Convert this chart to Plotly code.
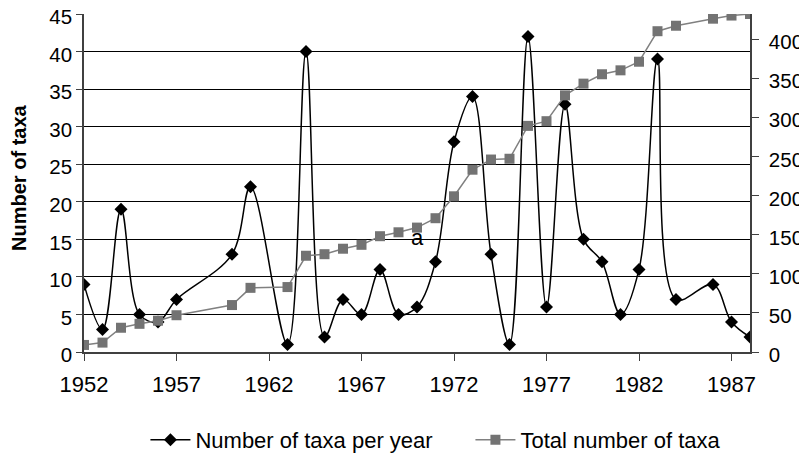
import plotly.graph_objects as go

years = [1952, 1953, 1954, 1955, 1956, 1957, 1960, 1961, 1963, 1964, 1965, 1966,
         1967, 1968, 1969, 1970, 1971, 1972, 1973, 1974, 1975, 1976, 1977, 1978,
         1979, 1980, 1981, 1982, 1983, 1984, 1986, 1987, 1988]
taxa_per_year = [9, 3, 19, 5, 4, 7, 13, 22, 1, 40, 2, 7,
                 5, 11, 5, 6, 12, 28, 34, 13, 1, 42, 6, 33,
                 15, 12, 5, 11, 39, 7, 9, 4, 2]
total_taxa = [9, 12, 31, 36, 40, 47, 60, 82, 83, 123, 125, 132,
              137, 148, 153, 159, 171, 199, 233, 246, 247, 289, 295, 328,
              343, 355, 360, 371, 410, 417, 426, 430, 432]
x_ticks = [1952, 1957, 1962, 1967, 1972, 1977, 1982, 1987]
left_ticks = list(range(0, 50, 5))
right_ticks = list(range(0, 450, 50))

FONT = "Arial, 'Liberation Sans', sans-serif"

# the page body adds an 8px margin, so the figure is sized/offset to compensate
W, H = 799, 448

fig = go.Figure()
fig.add_trace(go.Scatter(
    x=years, y=taxa_per_year, name="Number of taxa per year",
    mode="lines+markers",
    line=dict(color="black", width=1.5, shape="spline", smoothing=1),
    marker=dict(symbol="diamond", size=10, color="black"),
    yaxis="y",
))
fig.add_trace(go.Scatter(
    x=years, y=total_taxa, name="Total number of taxa",
    mode="lines+markers",
    line=dict(color="#808080", width=1.5),
    marker=dict(symbol="square", size=10, color="#737373"),
    yaxis="y2",
))

fig.add_annotation(x=1970, y=15.2, xref="x", yref="y", text="a",
                   showarrow=False, font=dict(size=22, color="black", family=FONT))
fig.add_annotation(x=-0.0976, y=0.515, xref="paper", yref="paper",
                   text="<b>Number of taxa</b>", textangle=-90, showarrow=False,
                   xanchor="center", yanchor="middle",
                   font=dict(size=20, color="black", family=FONT))

fig.update_layout(
    width=W, height=H,
    margin=dict(l=76, r=57, t=6, b=104, autoexpand=False),
    paper_bgcolor="white", plot_bgcolor="white",
    font=dict(family=FONT, size=22, color="black"),
    showlegend=True,
    legend=dict(orientation="h", xref="container", yref="container",
                x=0.172, xanchor="left", y=1 - 432 / H, yanchor="middle",
                font=dict(size=22), bgcolor="rgba(0,0,0,0)", itemwidth=40,
                entrywidth=270),
    xaxis=dict(range=[1952, 1988], tickvals=x_ticks, ticks="outside", ticklen=7,
               tickcolor="#404040", showline=True, linecolor="#404040", linewidth=1.5,
               showgrid=False, zeroline=False, tickfont=dict(size=22), automargin=False,
               ticklabelstandoff=5, ticklabeloverflow="allow"),
    yaxis=dict(range=[0, 45], tickvals=left_ticks, ticks="outside", ticklen=6,
               tickcolor="#404040", showline=True, linecolor="#404040", linewidth=1.5,
               showgrid=True, gridcolor="black", gridwidth=1, zeroline=False,
               tickfont=dict(size=20.5), automargin=False, ticklabeloverflow="allow",
               ticklabelshift=3),
    yaxis2=dict(range=[0, 432], tickvals=right_ticks, overlaying="y", side="right",
                ticks="outside", ticklen=7, tickcolor="#404040", showline=True,
                linecolor="#404040", linewidth=1.5, showgrid=False, zeroline=False,
                tickfont=dict(size=20.5), automargin=False, ticklabelstandoff=6,
                ticklabeloverflow="allow", ticklabelshift=3),
)

fig.write_html("out.html")
